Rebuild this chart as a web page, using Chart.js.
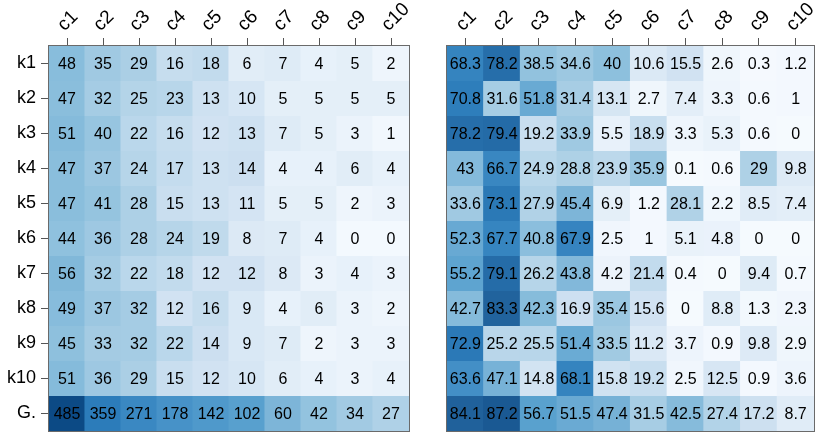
<!DOCTYPE html>
<html><head><meta charset="utf-8">
<script src="https://cdn.jsdelivr.net/npm/chart.js@4.4.1/dist/chart.umd.min.js"></script>
<style>
html,body{margin:0;padding:0;background:#fff;width:830px;height:441px;overflow:hidden}
#w1{position:absolute;left:0;top:0;width:440px;height:441px}
#w2{position:absolute;left:420px;top:0;width:410px;height:441px}
canvas{display:block}
</style></head><body>
<div id="w1"><canvas id="cv1" width="440" height="441"></canvas></div>
<div id="w2"><canvas id="cv2" width="410" height="441"></canvas></div>
<script>
const columns = ['c1','c2','c3','c4','c5','c6','c7','c8','c9','c10'];
const rows = ['k1','k2','k3','k4','k5','k6','k7','k8','k9','k10','G.'];

const counts = [
  [48,35,29,16,18,6,7,4,5,2],
  [47,32,25,23,13,10,5,5,5,5],
  [51,40,22,16,12,13,7,5,3,1],
  [47,37,24,17,13,14,4,4,6,4],
  [47,41,28,15,13,11,5,5,2,3],
  [44,36,28,24,19,8,7,4,0,0],
  [56,32,22,18,12,12,8,3,4,3],
  [49,37,32,12,16,9,4,6,3,2],
  [45,33,32,22,14,9,7,2,3,3],
  [51,36,29,15,12,10,6,4,3,4],
  [485,359,271,178,142,102,60,42,34,27]
];

const percents = [
  [68.3,78.2,38.5,34.6,40,10.6,15.5,2.6,0.3,1.2],
  [70.8,31.6,51.8,31.4,13.1,2.7,7.4,3.3,0.6,1],
  [78.2,79.4,19.2,33.9,5.5,18.9,3.3,5.3,0.6,0],
  [43,66.7,24.9,28.8,23.9,35.9,0.1,0.6,29,9.8],
  [33.6,73.1,27.9,45.4,6.9,1.2,28.1,2.2,8.5,7.4],
  [52.3,67.7,40.8,67.9,2.5,1,5.1,4.8,0,0],
  [55.2,79.1,26.2,43.8,4.2,21.4,0.4,0,9.4,0.7],
  [42.7,83.3,42.3,16.9,35.4,15.6,0,8.8,1.3,2.3],
  [72.9,25.2,25.5,51.4,33.5,11.2,3.7,0.9,9.8,2.9],
  [63.6,47.1,14.8,68.1,15.8,19.2,2.5,12.5,0.9,3.6],
  [84.1,87.2,56.7,51.5,47.4,31.5,42.5,27.4,17.2,8.7]
];

// colour ramp (blues)
const PALETTE = [
  [0.00,'#f7fbff'],[0.05,'#eef5fc'],[0.10,'#e3eef8'],[0.20,'#cfe1f1'],
  [0.30,'#b8d6ea'],[0.35,'#abcfe5'],[0.45,'#88bddc'],[0.48,'#7db5d8'],
  [0.55,'#64a7d2'],[0.58,'#58a0ce'],[0.63,'#4792c8'],[0.67,'#3a88c2'],
  [0.72,'#2c7cba'],[0.85,'#1f5f99'],[0.92,'#0c4a85'],[1.00,'#08306b']
];
const LEFT_MAP = [[0,0.02],[2,0.05],[6,0.11],[12,0.19],[16,0.24],[29,0.35],[48,0.45],[60,0.48],[102,0.58],[178,0.63],[271,0.67],[359,0.72],[485,0.92]];
const RIGHT_MAP = [[0,0.01],[9,0.12],[30,0.35],[57,0.58],[87.2,0.87]];

function hexRgb(h){return [1,3,5].map(i=>parseInt(h.substr(i,2),16));}
function interp(v, pts){
  if (v <= pts[0][0]) return pts[0][1];
  for (let i=1;i<pts.length;i++){
    if (v <= pts[i][0]) {
      const a=pts[i-1], b=pts[i];
      return a[1] + (b[1]-a[1])*(v-a[0])/(b[0]-a[0]);
    }
  }
  return pts[pts.length-1][1];
}
function paletteAt(t){
  t=Math.max(0,Math.min(1,t));
  for (let i=1;i<PALETTE.length;i++){
    if (t <= PALETTE[i][0]){
      const a=PALETTE[i-1], b=PALETTE[i];
      const f=(t-a[0])/(b[0]-a[0]);
      const ca=hexRgb(a[1]), cb=hexRgb(b[1]);
      const c=ca.map((x,k)=>Math.round(x+(cb[k]-x)*f));
      return 'rgb('+c.join(',')+')';
    }
  }
  return PALETTE[PALETTE.length-1][1];
}

const FONT = "'Liberation Sans', Arial, Helvetica, sans-serif";

const cellText = {
  id:'cellText',
  afterDatasetsDraw(chart, args, opts){
    const ctx=chart.ctx;
    ctx.save();
    ctx.fillStyle='#000';
    ctx.font='16px '+FONT;
    ctx.textAlign='center';
    ctx.textBaseline='middle';
    chart.data.datasets.forEach((ds, di)=>{
      const meta=chart.getDatasetMeta(di);
      meta.data.forEach((el, ci)=>{
        const v = opts.values[di][ci];
        ctx.fillText(String(v), el.x, (el.y+el.base)/2 + 1);
      });
    });
    ctx.restore();
  }
};
const frame = {
  id:'frame',
  afterDraw(chart){
    const a=chart.chartArea, ctx=chart.ctx;
    ctx.save();
    ctx.strokeStyle='#6a6a6a';
    ctx.lineWidth=1;
    ctx.strokeRect(Math.round(a.left)-0.5, Math.round(a.top)-0.5, Math.round(a.right-a.left)+1, Math.round(a.bottom-a.top)+1);
    ctx.restore();
  }
};

function build(id, values, mapPts, showY, pad){
  const datasets = rows.map((r, j)=>({
    label:r,
    data: columns.map(()=>[j, j+1]),
    backgroundColor: values[j].map(v=>paletteAt(interp(v,mapPts))),
    borderWidth:0,
    borderSkipped:false,
    grouped:false,
    barPercentage:1.03,
    categoryPercentage:1
  }));
  return new Chart(document.getElementById(id), {
    type:'bar',
    data:{labels:columns, datasets},
    options:{
      responsive:false, animation:false, devicePixelRatio:1,
      layout:{padding:pad},
      plugins:{legend:{display:false}, tooltip:{enabled:false}, cellText:{values}},
      scales:{
        x:{
          type:'category', position:'top', offset:true,
          grid:{offset:false, drawOnChartArea:false, drawTicks:true, tickLength:8, color:'#555', lineWidth:1},
          border:{display:false},
          ticks:{minRotation:45, maxRotation:45, autoSkip:false, padding:2, labelOffset:10, color:'#000', font:{family:FONT, size:19}},
          afterFit(s){ s.height = 46 - pad.top; s.paddingLeft=0; s.paddingRight=0; }
        },
        y:{
          type:'linear', min:0, max:rows.length, reverse:true, display:showY,
          afterBuildTicks(s){ s.ticks = rows.map((_, i)=>({value:i+0.5})); },
          grid:{drawOnChartArea:false, drawTicks:true, tickLength:8, color:'#555', lineWidth:1},
          border:{display:false},
          ticks:{autoSkip:false, padding:5, color:'#000', font:{family:FONT, size:18},
                 callback:(v, i)=>rows[i]},
          afterFit(s){ if (showY) s.width = 49 - pad.left; s.paddingTop=0; s.paddingBottom=0; }
        }
      }
    },
    plugins:[cellText, frame]
  });
}

build('cv1', counts, LEFT_MAP, true, {left:0, right:31, top:0, bottom:10});
build('cv2', percents, RIGHT_MAP, false, {left:27, right:16, top:0, bottom:10});
</script>
</body></html>
